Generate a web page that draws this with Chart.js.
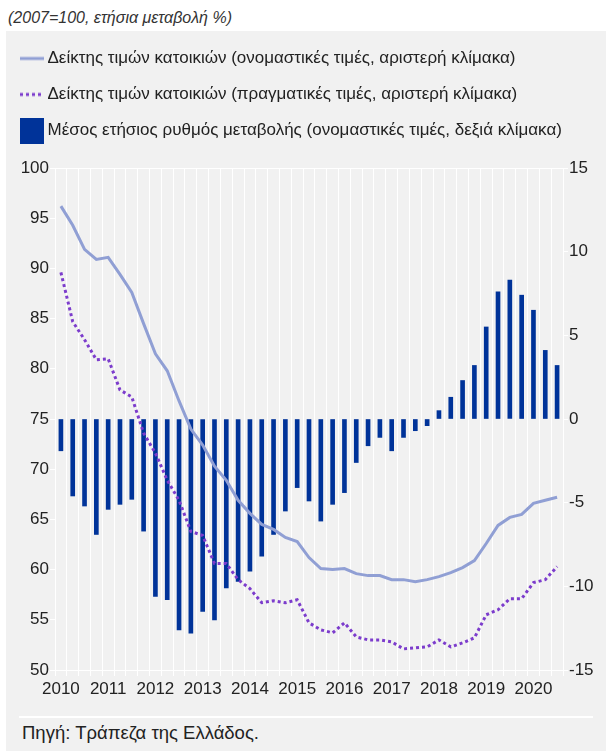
<!DOCTYPE html>
<html lang="el">
<head>
<meta charset="UTF-8">
<title>Δείκτης τιμών κατοικιών</title>
<script src="https://cdn.jsdelivr.net/npm/chart.js@4.4.1/dist/chart.umd.min.js"></script>
<style>
  body { margin: 0; background: #fff; width: 606px; height: 751px; position: relative; overflow: hidden;
         font-family: "Liberation Sans", Arial, sans-serif; color: #222; }
  #units { position: absolute; left: 8px; top: 9px; font-size: 16px; font-style: italic; color: #333; }
  #panel { position: absolute; left: 6px; top: 31px; width: 600px; height: 720px; background: #f1f1f1; }
  #wrap { position: absolute; left: 0; top: 0; width: 600px; height: 680px; }
  #rule { position: absolute; left: 13px; top: 685px; width: 574px; height: 2px; background: #fff; }
  #source { position: absolute; left: 16px; top: 691px; font-size: 18.5px; }
</style>
</head>
<body>
<div id="units">(2007=100, ετήσια μεταβολή %)</div>
<div id="panel">
  <div id="wrap"><canvas id="chart"></canvas></div>
  <div id="rule"></div>
  <div id="source">Πηγή: Τράπεζα της Ελλάδος.</div>
</div>
<script>
// data (quarterly, 2010 Q1 - 2020 Q3)
const years = ['2010', '2011', '2012', '2013', '2014', '2015', '2016', '2017', '2018', '2019', '2020'];
const quarters = [];
years.forEach(y => ['Q1', 'Q2', 'Q3', 'Q4'].forEach(q => quarters.push(y + ' ' + q)));
quarters.length = 43;

// nominal house price index (left scale)
const nominal = [96.2, 94.3, 91.9, 90.9, 91.1, 89.4, 87.6, 84.5, 81.5, 79.8, 76.8, 74.0,
  72.4, 70.3, 68.9, 66.9, 65.6, 64.5, 64.0, 63.2, 62.8, 61.2, 60.1, 60.0,
  60.1, 59.6, 59.4, 59.4, 59.0, 59.0, 58.8, 59.0, 59.3, 59.7, 60.2, 60.9,
  62.6, 64.4, 65.2, 65.5, 66.6, 66.9, 67.2];

// real house price index (left scale)
const real = [89.6, 84.7, 82.9, 80.9, 81.0, 77.9, 77.2, 73.6, 71.6, 68.9, 66.9, 63.8,
  63.4, 60.6, 60.6, 59.0, 58.1, 56.7, 56.9, 56.7, 57.0, 54.7, 54.0, 53.7,
  54.7, 53.3, 53.0, 53.0, 52.8, 52.1, 52.2, 52.3, 53.0, 52.3, 52.7, 53.2,
  55.5, 56.0, 57.1, 57.1, 58.7, 59.0, 60.3];

// average annual rate of change, nominal (right scale)
const growth = [-1.9, -4.6, -5.2, -6.9, -5.4, -5.1, -4.8, -6.7, -10.6, -10.8, -12.6, -12.8,
  -11.5, -12.0, -10.1, -9.7, -9.1, -8.2, -6.9, -5.5, -4.1, -4.9, -6.1, -5.1,
  -4.4, -2.6, -1.6, -1.1, -1.9, -1.1, -0.7, -0.4, 0.5, 1.3, 2.3, 3.2,
  5.5, 7.6, 8.3, 7.4, 6.5, 4.1, 3.2];

const nominalColor = '#909fd4';
const realColor = '#7c3ccc';
const barColor = '#003399';
const textColor = '#222';

// small canvases used as legend symbols
function icon(draw) {
  const c = document.createElement('canvas');
  c.width = 24; c.height = 26;
  draw(c.getContext('2d'));
  return c;
}
const icons = [
  icon(ctx => { ctx.strokeStyle = nominalColor; ctx.lineWidth = 3; ctx.beginPath(); ctx.moveTo(0, 13); ctx.lineTo(24, 13); ctx.stroke(); }),
  icon(ctx => { ctx.strokeStyle = realColor; ctx.lineWidth = 3; ctx.setLineDash([3, 3]); ctx.beginPath(); ctx.moveTo(0, 13); ctx.lineTo(24, 13); ctx.stroke(); }),
  icon(ctx => { ctx.fillStyle = barColor; ctx.fillRect(0, 0, 24, 26); })
];

// leave room between the legend and the plot
const legendSpace = {
  id: 'legendSpace',
  beforeLayout(chart) {
    const lg = chart.legend;
    if (lg && !lg._spaced) {
      const fit = lg.fit;
      lg.fit = function() { fit.call(this); this.height = 137; };
      lg._spaced = true;
    }
  }
};

new Chart(document.getElementById('chart'), {
  type: 'bar',
  data: {
    labels: quarters,
    datasets: [
      { type: 'line', label: 'Δείκτης τιμών κατοικιών (ονομαστικές τιμές, αριστερή κλίμακα)',
        data: nominal, yAxisID: 'y', borderColor: nominalColor, borderWidth: 3,
        pointRadius: 0, tension: 0, order: 0 },
      { type: 'line', label: 'Δείκτης τιμών κατοικιών (πραγματικές τιμές, αριστερή κλίμακα)',
        data: real, yAxisID: 'y', borderColor: realColor, borderWidth: 3, borderDash: [3, 3],
        pointRadius: 0, tension: 0, order: 1 },
      { label: 'Μέσος ετήσιος ρυθμός μεταβολής (ονομαστικές τιμές, δεξιά κλίμακα)',
        data: growth, yAxisID: 'y2', backgroundColor: barColor, barThickness: 4, order: 2 }
    ]
  },
  options: {
    responsive: true,
    maintainAspectRatio: false,
    animation: false,
    layout: { padding: 0 },
    plugins: {
      tooltip: { enabled: false },
      legend: {
        position: 'top',
        align: 'start',
        labels: {
          usePointStyle: true,
          pointStyleWidth: 14,
          padding: 19,
          color: textColor,
          font: { family: '"Liberation Sans", Arial, sans-serif', size: 17 },
          generateLabels: chart => chart.data.datasets.map((ds, i) => ({
            text: ds.label, pointStyle: icons[i], datasetIndex: i,
            fillStyle: 'transparent', strokeStyle: 'transparent', lineWidth: 0,
            fontColor: textColor, hidden: false
          }))
        }
      }
    },
    scales: {
      x: {
        afterFit: s => { s.height = 41; },
        grid: { color: '#fff', lineWidth: 1, tickLength: 6, tickColor: '#fff', offset: true },
        border: { color: '#fff' },
        ticks: {
          autoSkip: false, maxRotation: 0, padding: 3, color: textColor,
          font: { family: '"Liberation Sans", Arial, sans-serif', size: 17 },
          callback: function(v) {
            const l = this.getLabelForValue(v);
            return l.endsWith('Q1') ? l.slice(0, 4) : '';
          }
        }
      },
      y: {
        position: 'left', min: 50, max: 100,
        afterFit: s => { s.width = 49; },
        grid: { color: c => (c.tick && c.tick.value === 100) ? '#fff' : 'rgba(0,0,0,0)', tickColor: '#fff', tickLength: 5 },
        border: { color: '#fff' },
        ticks: { stepSize: 5, padding: 1, color: textColor,
          font: { family: '"Liberation Sans", Arial, sans-serif', size: 17 } }
      },
      y2: {
        position: 'right', min: -15, max: 15,
        afterFit: s => { s.width = 43; },
        grid: { drawOnChartArea: false, tickColor: '#fff', tickLength: 5 },
        border: { color: '#fff' },
        ticks: { stepSize: 5, padding: 1, color: textColor,
          font: { family: '"Liberation Sans", Arial, sans-serif', size: 17 } }
      }
    }
  },
  plugins: [legendSpace]
});
</script>
</body>
</html>
